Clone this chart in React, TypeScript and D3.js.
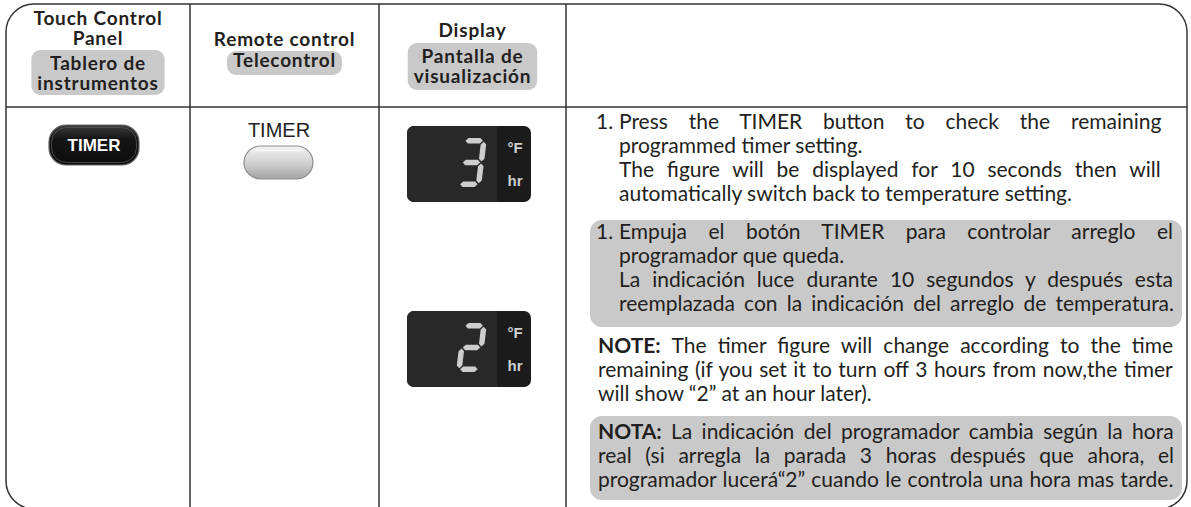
import * as d3 from "d3";

// header labels: english on top, spanish on the grey plate
const headerEnglish = [["Touch Control", "Panel"], ["Remote control"], ["Display"]];
const headerSpanish = [["Tablero de", "instrumentos"], ["Telecontrol"], ["Pantalla de", "visualización"]];

const buttonText = "TIMER";
const displayDigits = ["3", "2"];
const displayUnits = ["°F", "hr"];

const stepNumber = "1.";
const stepEnglish = [
  "Press the TIMER button to check the remaining",
  "programmed timer setting.",
  "The figure will be displayed for 10 seconds then will",
  "automatically switch back to temperature setting."
];
const stepSpanish = [
  "Empuja el botón TIMER para controlar arreglo el",
  "programador que queda.",
  "La indicación luce durante 10 segundos y después esta",
  "reemplazada con la indicación del arreglo de temperatura."
];
const noteEnglishLabel = "NOTE:";
const noteEnglish = [
  "The timer figure will change according to the time",
  "remaining (if you set it to turn off 3 hours from now,the timer",
  "will show “2” at an hour later)."
];
const noteSpanishLabel = "NOTA:";
const noteSpanish = [
  "La indicación del programador cambia según la hora",
  "real (si arregla la parada 3 horas después que ahora, el",
  "programador lucerá“2” cuando le controla una hora mas tarde."
];

// which lines are set to the full measure
const stepEnglishJustify = [true, false, true, false];
const stepSpanishJustify = [true, false, true, true];
const noteEnglishJustify = [true, true, false];
const noteSpanishJustify = [true, true, true];

// lit segments per digit
const segmentsOn: Record<string, string> = { "2": "abged", "3": "abgcd" };

const width = 1191;
const height = 507;
const font = "Lato, 'Open Sans', sans-serif";
const ink = "#231f20";
const plate = "#c9c9c9";
const headSize = 19;
const headSpacing = 0.8;
const bodySize = 21;
const lineGap = 24;

// table grid
const colEdge = d3.scaleOrdinal<number, number>().domain([0, 1, 2, 3, 4]).range([6, 190, 379, 566, 1187]);
const colCenter = (i: number) => (colEdge(i) + colEdge(i + 1)) / 2;
const top = 4;
const bottom = 509;
const headerBottom = 107;

let ctx: CanvasRenderingContext2D | null = null;
function textWidth(s: string, size: number, weight = "normal", spacing = 0) {
  if (!ctx) ctx = document.createElement("canvas").getContext("2d");
  if (!ctx) return s.length * size * 0.5;
  ctx.font = `${weight} ${size}px Lato`;
  return ctx.measureText(s).width + spacing * s.length;
}

interface ParaProps {
  lines: string[];
  justify: boolean[];
  y0: number;
  x: number;
  right: number;
  indent?: number;
  number?: string;
  label?: string;
}

function Paragraph({ lines, justify, y0, x, right, indent, number, label }: ParaProps) {
  const y = d3.scaleLinear().domain([0, 1]).range([y0, y0 + lineGap]);
  const x0 = number ? indent ?? x : x;
  return (
    <g fontFamily={font} fontSize={bodySize} fill={ink}>
      {number && (
        <text x={x} y={y(0)}>
          {number}
        </text>
      )}
      {lines.map((s, i) => {
        const lead = i === 0 && label ? label + " " : "";
        const natural = (lead ? textWidth(lead, bodySize, "bold") : 0) + textWidth(s, bodySize);
        const gaps = (lead ? 1 : 0) + s.split(" ").length - 1;
        const ws = justify[i] && gaps ? (right - x0 - natural) / gaps : 0;
        return (
          <text key={i} x={x0} y={y(i)} style={{ wordSpacing: `${ws}px` }}>
            {lead && <tspan fontWeight="bold">{lead}</tspan>}
            {s}
          </text>
        );
      })}
    </g>
  );
}

function Digit({ x0, y0, digit }: { x0: number; y0: number; digit: string }) {
  const w = 25, h = 49, t = 5.5, g = 1, slant = 6;
  const L = t / 2, R = w - t / 2, T = t / 2, M = h / 2, B = h - t / 2;
  const hseg = (yc: number): [number, number][] => [
    [L + g, yc], [L + g + t / 2, yc - t / 2], [R - g - t / 2, yc - t / 2],
    [R - g, yc], [R - g - t / 2, yc + t / 2], [L + g + t / 2, yc + t / 2]
  ];
  const vseg = (xc: number, a: number, b: number): [number, number][] => [
    [xc, a + g], [xc + t / 2, a + g + t / 2], [xc + t / 2, b - g - t / 2],
    [xc, b - g], [xc - t / 2, b - g - t / 2], [xc - t / 2, a + g + t / 2]
  ];
  const segs: Record<string, [number, number][]> = {
    a: hseg(T), g: hseg(M), d: hseg(B),
    f: vseg(L, T, M), b: vseg(R, T, M), e: vseg(L, M, B), c: vseg(R, M, B)
  };
  const sx = d3.scaleLinear().domain([0, w]).range([x0, x0 + w]);
  const sy = d3.scaleLinear().domain([0, h]).range([y0, y0 + h]);
  const line = d3.line<[number, number]>()
    .x(p => sx(p[0]) + slant * (1 - p[1] / h))
    .y(p => sy(p[1]));
  return (
    <g fill="#cdcdcd">
      {segmentsOn[digit].split("").map(k => (
        <path key={k} d={line(segs[k]) + "Z"} />
      ))}
    </g>
  );
}

function Display({ y0, digit }: { y0: number; digit: string }) {
  const x0 = 407, w = 124, h = 76, strip = 497;
  return (
    <g>
      <rect x={x0} y={y0} width={w} height={h} rx={7} fill="#1b1b1b" />
      <rect x={x0} y={y0} width={strip - x0} height={h} rx={7} fill="#282828" />
      <rect x={strip - 8} y={y0} width={8} height={h} fill="#282828" />
      <Digit x0={456} y0={y0 + 12} digit={digit} />
      <g fontFamily="'Liberation Sans', Arial, sans-serif" fontWeight="bold" fontSize={15} fill="#cfcfcf" textAnchor="middle">
        <text x={515} y={y0 + 27}>{displayUnits[0]}</text>
        <text x={515} y={y0 + 60}>{displayUnits[1]}</text>
      </g>
    </g>
  );
}

export default function App() {
  // first baseline of each header block and the grey plate extents
  const headerEnY = [25, 46, 37];
  const headerEsY = [70, 67, 63];
  const headLead = 20;
  const plateY = [[50, 95], [51, 75], [43, 90]];
  const textLeft = 596;
  const indent = 619;

  return (
    <svg width={width} height={height} style={{ position: "absolute", left: 0, top: 0 }}>
      <defs>
        <linearGradient id="touchBtn" x1="0" y1="0" x2="0" y2="1">
          <stop offset="0" stopColor="#3c3c3c" />
          <stop offset="0.35" stopColor="#151515" />
          <stop offset="1" stopColor="#0c0c0c" />
        </linearGradient>
        <linearGradient id="remoteBtn" x1="0" y1="0" x2="0" y2="1">
          <stop offset="0" stopColor="#f4f4f4" />
          <stop offset="0.5" stopColor="#d2d2d2" />
          <stop offset="1" stopColor="#a4a4a4" />
        </linearGradient>
      </defs>
      <rect width={width} height={height} fill="#fff" />

      {/* table frame */}
      <rect x={colEdge(0)} y={top} width={colEdge(4) - colEdge(0)} height={bottom - top} rx={28}
        fill="none" stroke="#333" strokeWidth={1.5} />
      {[1, 2, 3].map(i => (
        <line key={i} x1={colEdge(i)} x2={colEdge(i)} y1={top} y2={bottom} stroke="#333" strokeWidth={1.5} />
      ))}
      <line x1={colEdge(0)} x2={colEdge(4)} y1={headerBottom} y2={headerBottom} stroke="#333" strokeWidth={1.5} />

      {/* header */}
      <g fontFamily={font} fontWeight="bold" fontSize={headSize} fill={ink} textAnchor="middle"
        style={{ letterSpacing: `${headSpacing}px` }}>
        {headerEnglish.map((lines, c) => (
          <text key={`en${c}`} x={colCenter(c)} y={headerEnY[c]}>
            {lines.map((s, j) => (
              <tspan key={j} x={colCenter(c)} dy={j === 0 ? 0 : headLead}>{s}</tspan>
            ))}
          </text>
        ))}
        {headerSpanish.map((lines, c) => {
          const bw = d3.max(lines, s => textWidth(s, headSize, "bold", headSpacing)) ?? 0;
          return (
            <g key={`es${c}`}>
              <rect x={colCenter(c) - bw / 2 - 6} y={plateY[c][0]} width={bw + 12}
                height={plateY[c][1] - plateY[c][0]} rx={9} fill={plate} />
              <text x={colCenter(c)} y={headerEsY[c]}>
                {lines.map((s, j) => (
                  <tspan key={j} x={colCenter(c)} dy={j === 0 ? 0 : headLead}>{s}</tspan>
                ))}
              </text>
            </g>
          );
        })}
      </g>

      {/* touch panel button */}
      <rect x={49} y={125} width={90} height={40} rx={17} fill="url(#touchBtn)" stroke="#666" strokeWidth={1.2} />
      <rect x={51.5} y={127.5} width={85} height={35} rx={15} fill="none" stroke="#555" strokeWidth={0.8} />
      <text x={94} y={151} textAnchor="middle" fontFamily="'Liberation Sans', Arial, sans-serif"
        fontWeight="bold" fontSize={17} fill="#fff">{buttonText}</text>

      {/* remote button */}
      <text x={279} y={137} textAnchor="middle" fontFamily="'Liberation Sans', Arial, sans-serif"
        fontSize={20} fill={ink}>{buttonText}</text>
      <rect x={244} y={146} width={69} height={33} rx={16.5} fill="url(#remoteBtn)" stroke="#8c8c8c" strokeWidth={1.2} />
      <path d="M256,150.5 H301" stroke="#fff" strokeWidth={1.2} strokeLinecap="round" opacity={0.9} />

      {/* displays */}
      <Display y0={126} digit={displayDigits[0]} />
      <Display y0={311} digit={displayDigits[1]} />

      {/* grey plates behind spanish text */}
      <rect x={590} y={220} width={592} height={107} rx={12} fill={plate} />
      <rect x={590} y={416} width={592} height={84} rx={12} fill={plate} />

      <Paragraph lines={stepEnglish} justify={stepEnglishJustify} y0={129} x={textLeft} indent={indent} right={1162} number={stepNumber} />
      <Paragraph lines={stepSpanish} justify={stepSpanishJustify} y0={239} x={textLeft} indent={indent} right={1174} number={stepNumber} />
      <Paragraph lines={noteEnglish} justify={noteEnglishJustify} y0={353} x={598} right={1174} label={noteEnglishLabel} />
      <Paragraph lines={noteSpanish} justify={noteSpanishJustify} y0={439} x={598} right={1174} label={noteSpanishLabel} />
    </svg>
  );
}
